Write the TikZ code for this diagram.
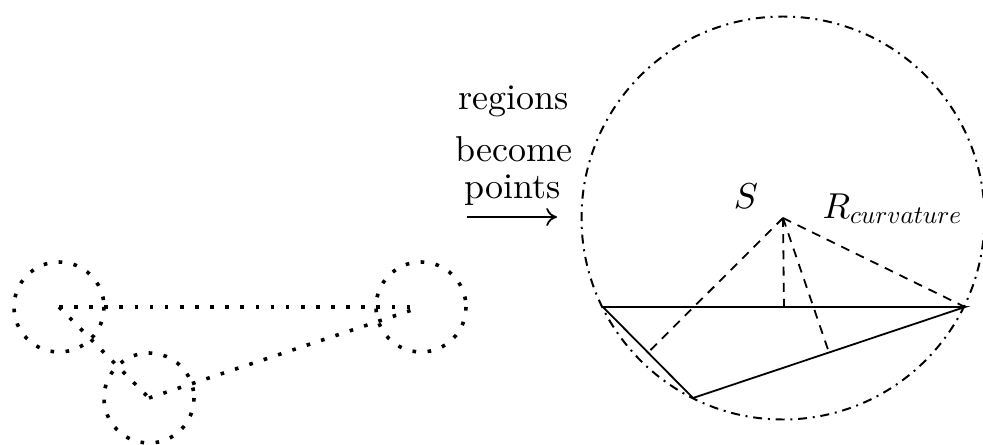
\documentclass[tikz,border=0pt]{standalone}
\usetikzlibrary{arrows.meta,calc}
\begin{document}
\begin{tikzpicture}[x=0.2778pt,y=-0.2778pt,
  regiondot/.style={line width=1pt, dash pattern=on 1pt off 3.2pt},
  circum/.style={line width=0.55pt, dash pattern=on 2.5pt off 1.6pt on 0.55pt off 1.6pt},
  aux/.style={line width=0.5pt, dash pattern=on 2.5pt off 2pt},
  edge/.style={line width=0.5pt},
  lbl/.style={inner sep=0pt, anchor=base}]
\useasboundingbox (0,0) rectangle (983,445);
% left figure: regions
\coordinate (A) at (59,307);
\coordinate (B) at (149,398);
\coordinate (C) at (421,307);
\draw[regiondot] (A) circle[radius=45];
\draw[regiondot] (B) circle[radius=45];
\draw[regiondot] (C) circle[radius=45];
\draw[regiondot] (A) -- (C);
\draw[regiondot] (A) -- (B);
\draw[regiondot] (B) -- (C);
% caption and arrow
\node[lbl] (t1) at (514,110) {regions};
\node[lbl] (t2) at (514,161) {become};
\node[lbl] (t3) at (513,198) {points};
\coordinate (arrS) at (467,217);
\coordinate (arrE) at (557,217);
\draw[edge,-{To[length=3pt,width=5pt]}] (arrS) -- (arrE);
% right figure: points
\coordinate (O) at (783,218);
\coordinate (P1) at (603,307);
\coordinate (P2) at (965,307);
\coordinate (P3) at (693,398);
\coordinate (M12) at ($(P1)!0.5!(P2)$);
\coordinate (M13) at ($(P1)!0.5!(P3)$);
\coordinate (M32) at ($(P3)!0.5!(P2)$);
\draw[circum] (O) circle[radius=201.5];
\draw[edge] (P1) -- (P2) -- (P3) -- cycle;
\draw[aux] (O) -- (M12);
\draw[aux] (O) -- (M13);
\draw[aux] (O) -- (M32);
\draw[aux] (O) -- (P2);
\node[lbl] (S) at (746,208) {$S$};
\node[lbl,anchor=base west] (R) at (822,218) {$R_{\scalebox{0.7}{$curvature$}}$};
\end{tikzpicture}
\end{document}
